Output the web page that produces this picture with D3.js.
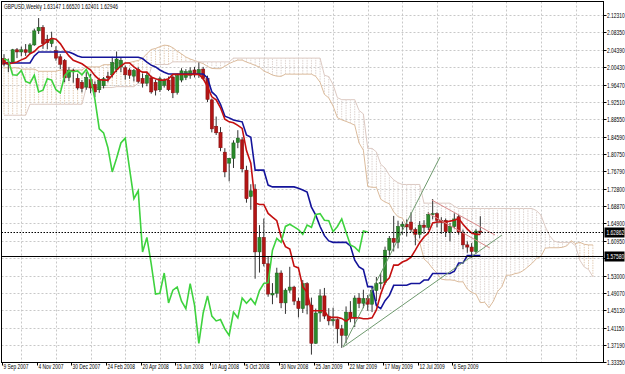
<!DOCTYPE html>
<html>
<head>
<meta charset="utf-8">
<script src="https://d3js.org/d3.v7.min.js"></script>
<style>
body { margin: 0; background: #fff; }
svg { display: block; }
</style>
</head>
<body>
<div id="chart"></div>
<script>
// GBPUSD weekly candles, 9 Sep 2007 .. 18 Oct 2009
var symbolTitle = "GBPUSD,Weekly";
var lastQuote = ["1.63147", "1.66520", "1.62401", "1.62946"];

var opens = [2.0240,2.0110,2.0160,2.0440,2.0390,2.0440,2.0380,2.0550,2.0870,2.0950,
  2.0680,2.0580,2.0420,2.0280,2.0200,1.9810,1.9970,1.9790,1.9700,1.9590,
  1.9760,1.9650,1.9530,1.9620,1.9840,1.9870,1.9990,2.0050,2.0030,1.9980,
  1.9840,1.9990,1.9790,1.9680,1.9800,1.9700,1.9530,1.9630,1.9750,1.9820,
  1.9470,1.9750,1.9810,1.9860,1.9980,1.9870,2.0000,1.9790,1.9300,1.8700,
  1.8560,1.8110,1.7860,1.7970,1.8330,1.8390,1.7700,1.7100,1.7270,1.5840,
  1.6170,1.5570,1.4860,1.4900,1.5360,1.4680,1.4970,1.5040,1.4720,1.4550,
  1.5120,1.4630,1.3760,1.4450,1.4840,1.4380,1.4270,1.4300,1.4090,1.3940,
  1.4470,1.4340,1.4790,1.4670,1.4780,1.4650,1.4960,1.5120,1.5140,1.5880,
  1.6150,1.6060,1.6420,1.6470,1.6520,1.6350,1.6240,1.6450,1.6400,1.6690,
  1.6710,1.6560,1.6560,1.6290,1.6420,1.6640,1.6290,1.6000,1.5950,1.5850,
  1.63147];
var highs = [2.0340,2.0240,2.0460,2.0480,2.0510,2.0570,2.0590,2.0920,2.1161,2.1000,
  2.0780,2.0850,2.0520,2.0340,2.0230,2.0050,2.0010,1.9890,1.9750,1.9930,
  1.9890,1.9720,1.9790,1.9820,1.9940,2.0280,2.0400,2.0260,2.0080,2.0020,
  2.0000,2.0040,1.9900,1.9920,1.9850,1.9760,1.9830,1.9790,1.9830,1.9850,
  1.9900,2.0020,2.0000,2.0040,2.0050,2.0150,2.0050,1.9850,1.9330,1.8920,
  1.8680,1.8200,1.7980,1.8380,1.8610,1.8450,1.7800,1.7380,1.7380,1.6450,
  1.6600,1.5740,1.5130,1.5480,1.5420,1.5010,1.5501,1.5070,1.4800,1.5200,
  1.5150,1.4800,1.4550,1.4990,1.5020,1.4560,1.4570,1.4330,1.4180,1.4600,
  1.4720,1.4850,1.4900,1.4980,1.4860,1.5020,1.5270,1.5350,1.5960,1.6200,
  1.6660,1.6550,1.6530,1.6580,1.6740,1.6390,1.6540,1.6560,1.6740,1.7043,
  1.6740,1.6630,1.6600,1.6500,1.6720,1.6690,1.6350,1.6080,1.6040,1.6360,
  1.66520];
var lows = [2.0060,1.9930,2.0130,2.0250,2.0290,2.0300,2.0340,2.0530,2.0800,2.0460,
  2.0450,2.0500,2.0190,2.0000,1.9700,1.9730,1.9690,1.9530,1.9470,1.9530,
  1.9450,1.9360,1.9460,1.9560,1.9700,1.9810,1.9930,1.9930,1.9760,1.9780,
  1.9720,1.9680,1.9580,1.9610,1.9440,1.9400,1.9480,1.9580,1.9500,1.9340,
  1.9420,1.9700,1.9750,1.9780,1.9810,1.9800,1.9750,1.9250,1.8560,1.8500,
  1.8130,1.7540,1.7446,1.7750,1.8200,1.7650,1.6960,1.6800,1.5230,1.5370,
  1.5510,1.4820,1.4650,1.4800,1.4560,1.4430,1.4910,1.4630,1.4350,1.4450,
  1.4420,1.3503,1.3750,1.4250,1.4310,1.4170,1.4160,1.3760,1.3657,1.3760,
  1.4240,1.4130,1.4560,1.4560,1.4500,1.4470,1.4720,1.4990,1.5090,1.5760,
  1.5850,1.5920,1.6230,1.6190,1.6290,1.5990,1.6150,1.6250,1.6340,1.6580,
  1.6400,1.6250,1.6180,1.6080,1.6370,1.6230,1.5900,1.5820,1.5707,1.5800,
  1.62401];
var closes = [2.0110,2.0160,2.0440,2.0390,2.0440,2.0380,2.0550,2.0870,2.0950,2.0580,
  2.0600,2.0700,2.0250,2.0110,1.9800,1.9970,1.9940,1.9570,1.9560,1.9810,
  1.9570,1.9480,1.9750,1.9780,1.9800,2.0150,2.0230,2.0200,1.9870,1.9860,
  1.9970,1.9720,1.9680,1.9860,1.9480,1.9520,1.9780,1.9750,1.9530,1.9460,
  1.9850,1.9960,1.9940,1.9960,1.9870,1.9990,1.9790,1.9310,1.8640,1.8550,
  1.8210,1.7660,1.7970,1.8320,1.8430,1.7730,1.7050,1.7230,1.5840,1.6170,
  1.5570,1.4880,1.4900,1.5360,1.4680,1.4970,1.5040,1.4720,1.4550,1.5120,
  1.4630,1.3760,1.4450,1.4840,1.4380,1.4270,1.4300,1.4090,1.3940,1.4470,
  1.4340,1.4790,1.4670,1.4780,1.4650,1.4960,1.5120,1.5140,1.5880,1.6150,
  1.6060,1.6420,1.6470,1.6410,1.6350,1.6240,1.6450,1.6400,1.6690,1.6710,
  1.6560,1.6550,1.6300,1.6420,1.6590,1.6290,1.6000,1.5950,1.5850,1.6315,
  1.62946];

// Ichimoku lines
var tenkan = [2.016,2.012,2.014,2.016,2.021,2.025,2.035,2.040,2.050,2.055,
  2.063,2.070,2.068,2.058,2.043,2.030,2.020,2.016,2.012,2.005,
  1.998,1.985,1.976,1.975,1.975,1.986,1.998,2.007,2.014,2.014,
  2.005,1.998,1.993,1.993,1.982,1.978,1.975,1.975,1.978,1.988,
  1.988,1.988,1.988,1.988,1.988,1.988,1.978,1.960,1.937,1.930,
  1.912,1.886,1.880,1.878,1.872,1.865,1.8145,1.786,1.6955,1.692,
  1.692,1.6715,1.663,1.655,1.618,1.596,1.5905,1.5515,1.5475,1.5045,
  1.4925,1.4502,1.4502,1.4502,1.4502,1.435,1.435,1.435,1.4327,1.426,
  1.434,1.434,1.434,1.432,1.432,1.434,1.452,1.488,1.515,1.525,
  1.554,1.554,1.561,1.565,1.572,1.588,1.605,1.618,1.627,1.650,
  1.652,1.652,1.652,1.654,1.656,1.660,1.647,1.636,1.627,1.624,
  1.624];
var kijun = [2.014,2.014,2.014,2.014,2.014,2.014,2.014,2.030,2.039,2.039,
  2.039,2.039,2.039,2.039,2.039,2.039,2.035,2.030,2.027,2.027,
  2.027,2.027,2.027,2.027,2.027,2.027,2.027,2.027,2.027,2.027,
  2.027,2.027,2.024,2.016,2.009,2.005,1.998,1.993,1.989,1.989,
  1.989,1.989,1.989,1.989,1.989,1.989,1.989,1.980,1.948,1.939,
  1.920,1.893,1.889,1.884,1.882,1.880,1.850,1.845,1.770,1.770,
  1.770,1.736,1.732,1.732,1.732,1.732,1.732,1.732,1.729,1.725,
  1.720,1.686,1.6677,1.6417,1.621,1.609,1.6057,1.6057,1.6057,1.6057,
  1.5977,1.565,1.5497,1.544,1.505,1.505,1.462,1.455,1.473,1.485,
  1.508,1.508,1.508,1.508,1.512,1.512,1.512,1.520,1.520,1.535,
  1.535,1.535,1.535,1.535,1.540,1.5587,1.5587,1.5757,1.5757,1.5757,
  1.5757];
// cloud, already shifted 26 bars forward (137 positions)
var spanA = [2.003,2.003,2.003,2.003,2.000,2.000,2.000,2.000,1.995,1.995,
  1.995,1.995,1.995,1.998,1.998,1.998,1.998,1.998,1.998,2.005,
  2.005,2.005,2.005,2.010,2.010,2.010,2.015,2.013,2.014,2.015,
  2.0175,2.0195,2.0245,2.035,2.0445,2.047,2.051,2.0545,2.0535,2.0485,
  2.041,2.0345,2.0275,2.023,2.0195,2.016,2.0125,2.006,2.0015,2.001,
  2.001,2.0065,2.0125,2.017,2.0205,2.0205,2.016,2.0125,2.0085,2.0045,
  1.9955,1.9915,1.9865,1.984,1.9835,1.9885,1.9885,1.9885,1.9885,1.9885,
  1.9885,1.9885,1.9835,1.970,1.9425,1.9345,1.916,1.8895,1.8845,1.881,
  1.877,1.8725,1.832,1.8155,1.733,1.731,1.731,1.704,1.6975,1.6935,
  1.675,1.664,1.661,1.642,1.638,1.615,1.606,1.568,1.559,1.546,
  1.5356,1.522,1.5204,1.5204,1.5192,1.5159,1.5159,1.4995,1.4919,1.488,
  1.4685,1.4695,1.457,1.4715,1.494,1.505,1.531,1.531,1.5345,1.5365,
  1.542,1.550,1.5585,1.569,1.5735,1.5925,1.5935,1.5935,1.5935,1.5945,
  1.598,1.6094,1.6029,1.6059,1.6014,1.5999,1.5999];
var spanB = [1.895,1.895,1.895,1.895,1.895,1.895,1.920,1.920,1.920,1.920,
  1.920,1.920,1.920,1.920,1.920,1.920,1.920,1.920,1.920,1.958,
  1.958,1.958,1.958,1.958,1.958,1.958,1.960,1.960,1.960,1.960,
  1.960,1.968,1.968,1.968,2.003,2.0105,2.0105,2.0105,2.0105,2.0165,
  2.0165,2.0165,2.0165,2.0165,2.0165,2.0165,2.0165,2.0165,2.0165,2.0165,
  2.0165,2.0165,2.0165,2.025,2.025,2.025,2.025,2.025,2.025,2.025,
  2.025,2.025,2.025,2.025,2.025,2.025,2.025,2.025,2.025,2.025,
  2.025,2.025,2.025,2.025,1.986,1.983,1.9646,1.935,1.9304,1.9304,
  1.9304,1.9304,1.906,1.898,1.8196,1.8196,1.8115,1.7835,1.775,1.7585,
  1.748,1.7415,1.7375,1.7375,1.7375,1.7375,1.7375,1.695,1.695,1.695,
  1.695,1.695,1.695,1.695,1.688,1.6827,1.6827,1.6827,1.6827,1.6827,
  1.6827,1.6827,1.6827,1.6827,1.6827,1.6827,1.6827,1.6827,1.6827,1.6827,
  1.6827,1.6827,1.6827,1.6777,1.6677,1.6417,1.621,1.609,1.6057,1.6057,
  1.6057,1.6057,1.5977,1.565,1.5497,1.544,1.5273];
var chikouShift = 26;

var dateLabels = ["9 Sep 2007","4 Nov 2007","30 Dec 2007","24 Feb 2008","20 Apr 2008",
  "15 Jun 2008","10 Aug 2008","5 Oct 2008","30 Nov 2008","25 Jan 2009","22 Mar 2009",
  "17 May 2009","12 Jul 2009","6 Sep 2009"];
var weeksPerLabel = 8;
var priceLabels = ["2.12310","2.08350","2.04390","2.00430","1.96470","1.92510","1.88550",
  "1.84590","1.80750","1.76790","1.72800","1.68870","1.64900","1.60950","1.57000",
  "1.53000","1.49070","1.45130","1.41150","1.37190","1.33350"];

// user objects: bid line, horizontal level, trend lines, channel  [bar, price, bar, price]
var bidPrice = 1.62862;
var levelPrice = 1.57580;
var trendLines = [[78.3, 1.3675, 100.7, 1.8000], [78.3, 1.3675, 115.0, 1.6224]];
var channelLines = [[98.8, 1.7020, 113.4, 1.6224], [97.9, 1.6725, 112.2, 1.5928]];

//--------------- SETUP --------------------
var width = 625, height = 374;
var plotL = 1.5, plotT = 1.5, plotR = 603.5, plotB = 362.5;
var barStep = 4.33;

var x = d3.scaleLinear()
  .domain([0, 136])
  .range([4, 4 + barStep * 136]);
var y = d3.scaleLinear()
  .domain([1.3335, 2.1231])
  .range([362, 15]);

var svg = d3.select("#chart")
.append("svg")
  .attr("width", width)
  .attr("height", height)
  .style("font-family", "'Liberation Sans', Arial, sans-serif");

svg.append("rect")
  .attr("x", 0).attr("y", 0)
  .attr("width", width).attr("height", height)
  .style("fill", "#fff");

svg.append("defs").append("clipPath")
  .attr("id", "plotclip")
.append("rect")
  .attr("x", plotL).attr("y", plotT)
  .attr("width", plotR - plotL).attr("height", plotB - plotT);

function label(g, tx, ty, txt, color) {
  return g.append("text")
    .attr("transform", "translate(" + tx + "," + ty + ") scale(0.68,1)")
    .style("font-size", "7.2px")
    .style("fill", color || "#000")
    .text(txt);
}

//--------------- GRID --------------------
var grid = svg.append("g").attr("clip-path", "url(#plotclip)");
priceLabels.forEach(function(p) {
  grid.append("line")
    .attr("x1", plotL).attr("x2", plotR)
    .attr("y1", Math.round(y(+p)) + 0.5).attr("y2", Math.round(y(+p)) + 0.5)
    .style("stroke", "#c8c8c8")
    .style("stroke-dasharray", "2,2");
});
for (var k = 0; k < 17; k++) {
  var gx = Math.round(x(k * weeksPerLabel + weeksPerLabel / 2)) + 0.5;
  grid.append("line")
    .attr("x1", gx).attr("x2", gx)
    .attr("y1", plotT).attr("y2", plotB)
    .style("stroke", "#c8c8c8")
    .style("stroke-dasharray", "2,2");
}

var plot = svg.append("g").attr("clip-path", "url(#plotclip)");

//--------------- CLOUD --------------------
spanA.forEach(function(a, p) {
  var b = spanB[p];
  plot.append("line")
    .attr("x1", x(p)).attr("x2", x(p))
    .attr("y1", y(a)).attr("y2", y(b))
    .style("stroke", a >= b ? "#e3ccb4" : "#ddd3cf")
    .style("stroke-width", 1)
    .style("stroke-dasharray", "1.5,1");
});
var spanLine = d3.line()
  .x(function(d, i) { return x(i); })
  .y(function(d) { return y(d); });
plot.append("path")
  .attr("d", spanLine(spanA))
  .style("fill", "none")
  .style("stroke", "#dbbb9c")
  .style("stroke-width", 1);
plot.append("path")
  .attr("d", spanLine(spanB))
  .style("fill", "none")
  .style("stroke", "#dcc9c2")
  .style("stroke-width", 1);

//--------------- CANDLES --------------------
var candles = plot.append("g");
closes.forEach(function(c, i) {
  var o = opens[i], up = c >= o;
  candles.append("line")
    .attr("x1", x(i)).attr("x2", x(i))
    .attr("y1", y(highs[i])).attr("y2", y(lows[i]))
    .style("stroke", "#333")
    .style("stroke-width", 1);
  var yt = y(Math.max(o, c)), yb = y(Math.min(o, c));
  candles.append("rect")
    .attr("x", x(i) - 1.6)
    .attr("y", yt)
    .attr("width", 3.2)
    .attr("height", Math.max(1, yb - yt))
    .style("fill", up ? "#2a8a2a" : "#b31515")
    .style("stroke", up ? "#1e5e1e" : "#7a1010")
    .style("stroke-width", 0.5);
});

//--------------- INDICATOR LINES --------------------
var barLine = d3.line()
  .x(function(d, i) { return x(i); })
  .y(function(d) { return y(d); });
plot.append("path")
  .attr("d", barLine(kijun))
  .style("fill", "none")
  .style("stroke", "#14149a")
  .style("stroke-width", 1.6);
plot.append("path")
  .attr("d", barLine(tenkan))
  .style("fill", "none")
  .style("stroke", "#c41010")
  .style("stroke-width", 1.6);
var chikou = d3.line()
  .x(function(d) { return x(d.i - chikouShift); })
  .y(function(d) { return y(d.v); });
plot.append("path")
  .attr("d", chikou(closes.map(function(v, i) { return {i: i, v: v}; }).filter(function(d) { return d.i >= chikouShift; })))
  .style("fill", "none")
  .style("stroke", "#3ed23e")
  .style("stroke-width", 1.6);

//--------------- OBJECTS --------------------
trendLines.forEach(function(t) {
  plot.append("line")
    .attr("x1", x(t[0])).attr("y1", y(t[1]))
    .attr("x2", x(t[2])).attr("y2", y(t[3]))
    .style("stroke", "#6f9a6f")
    .style("stroke-width", 1);
});
channelLines.forEach(function(t) {
  plot.append("line")
    .attr("x1", x(t[0])).attr("y1", y(t[1]))
    .attr("x2", x(t[2])).attr("y2", y(t[3]))
    .style("stroke", "#d88a8a")
    .style("stroke-width", 1);
});
plot.append("line")
  .attr("x1", plotL).attr("x2", plotR)
  .attr("y1", Math.round(y(bidPrice)) + 0.5).attr("y2", Math.round(y(bidPrice)) + 0.5)
  .style("stroke", "#000")
  .style("stroke-dasharray", "1.5,1.5");
plot.append("line")
  .attr("x1", plotL).attr("x2", plotR)
  .attr("y1", Math.round(y(levelPrice)) + 0.5).attr("y2", Math.round(y(levelPrice)) + 0.5)
  .style("stroke", "#000")
  .style("stroke-width", 1);

//--------------- FRAME & AXES --------------------
svg.append("rect")
  .attr("x", plotL).attr("y", plotT)
  .attr("width", plotR - plotL).attr("height", plotB - plotT)
  .style("fill", "none")
  .style("stroke", "#000");

var boxes = [bidPrice, levelPrice];
var axisR = svg.append("g");
priceLabels.forEach(function(p) {
  var py = Math.round(y(+p)) + 0.5;
  axisR.append("line")
    .attr("x1", plotR).attr("x2", plotR + 3)
    .attr("y1", py).attr("y2", py)
    .style("stroke", "#000");
  // labels hidden under a price box are not shown
  var covered = boxes.some(function(b) { return Math.abs(y(b) - y(+p)) < 6; });
  if (!covered) label(axisR, plotR + 3.5, py + 2.5, p);
});
boxes.forEach(function(p) {
  var py = Math.round(y(p)) + 0.5;
  axisR.append("rect")
    .attr("x", plotR + 1).attr("y", py - 5)
    .attr("width", 20).attr("height", 10)
    .style("fill", "#000");
  label(axisR, plotR + 3, py + 2.5, p.toFixed(5), "#fff");
});

var axisB = svg.append("g");
dateLabels.forEach(function(d, k) {
  var bx = Math.round(x(k * weeksPerLabel)) - 1.5;
  axisB.append("line")
    .attr("x1", bx).attr("x2", bx)
    .attr("y1", plotB).attr("y2", plotB + 3)
    .style("stroke", "#000");
  label(axisB, bx + 1, 369, d);
});

label(svg, 4, 9, symbolTitle + "  " + lastQuote.join(" "));
</script>
</body>
</html>
